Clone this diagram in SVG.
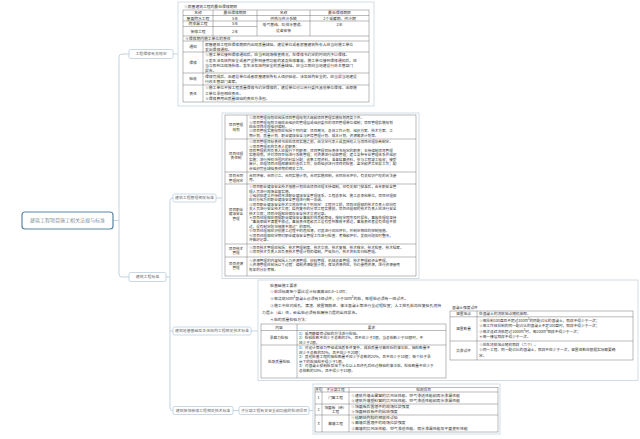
<svg xmlns="http://www.w3.org/2000/svg" width="640" height="439" viewBox="0 0 640 439">
<style>
.c{fill:none;stroke:#b4c8d8;stroke-width:0.8}
.nb{fill:#fff;stroke:#a3bfd3;stroke-width:0.6}
.rb{fill:#fff;stroke:#5b87a6;stroke-width:1.2}
.nt{font-family:"Noto Sans CJK SC",sans-serif;font-size:3.9px;fill:#666;text-anchor:middle}
.rt{font-family:"Noto Sans CJK SC",sans-serif;font-size:5px;fill:#7f92a1;text-anchor:middle}
.pan{fill:#fff;stroke:#c6d4df;stroke-width:0.8}
.tb{fill:none;stroke:#666;stroke-width:0.45}
.t{font-family:"Noto Sans CJK SC",sans-serif;fill:#333}
.a{font-size:3.8px}
.b{font-size:3.6px}
.d{font-size:3.9px}
.e{font-size:3.7px}
.s{font-size:3px}
.m{text-anchor:middle}
</style>
<rect width="640" height="439" fill="#fff"/>

<g id="connectors">
<path class="c" d="M113,220.5 H119"/>
<path class="c" d="M129,54 H122 Q119,54 119,57 V274 Q119,277 122,277 H129"/>
<path class="c" d="M173,54 H178"/>
<path class="c" d="M166,277 H170"/>
<path class="c" d="M173,198 H172.5 Q170,198 170,200.5 V408 Q170,410.5 172.5,410.5 H173"/>
<path class="c" d="M170,331 H173"/>
<path class="c" d="M216,198 H222"/>
<path class="c" d="M251,331 H258"/>
<path class="c" d="M233,410.5 H239"/>
<path class="c" d="M309,410.5 H313"/>
</g>

<g id="root">
<rect class="rb" x="22" y="212" width="91" height="17" rx="3"/>
<text class="rt" x="67.5" y="222.3">建筑工程项目施工相关法规与标准</text>
</g>

<g id="n-baoxiu">
<rect class="nb" x="129" y="49.5" width="44" height="9" rx="1.5"/>
<text class="nt" x="151" y="55.4">工程保修有关规定</text>
</g>

<g id="n-biaozhun">
<rect class="nb" x="129" y="272.5" width="37" height="9" rx="1.5"/>
<text class="nt" x="147.5" y="278.4">建筑工程标准</text>
</g>

<g id="n-guanli">
<rect class="nb" x="173" y="194" width="43" height="8" rx="1.5"/>
<text class="nt" x="194.5" y="199.4">建筑工程管理相关标准</text>
</g>

<g id="n-diji">
<rect class="nb" x="173" y="327" width="78" height="8" rx="1.5"/>
<text class="nt" x="212" y="332.4">建筑地基基础及主体结构工程相关技术标准</text>
</g>

<g id="n-zhuangshi">
<rect class="nb" x="173" y="406.5" width="60" height="8" rx="1.5"/>
<text class="nt" x="203" y="411.9">建筑装饰装修工程相关技术标准</text>
</g>

<g id="n-zifenbu">
<rect class="nb" x="239" y="406.5" width="70" height="8" rx="1.5"/>
<text class="nt" x="274" y="411.9">子分部工程有关安全和功能的检测项目</text>
</g>

<g id="t-baoxiu">
<rect class="pan" x="178" y="2" width="196" height="104"/>
<text class="t a" x="184" y="8.2">①房屋建筑工程的最低保修期限</text>
<rect class="tb" x="183" y="10" width="186" height="92"/>
<path class="tb" d="M183,15.5H369M183,21H369M183,26.5H257M183,36H369M183,41H369M183,52H369M183,73H369M183,85H369M213,10V36M257,10V36M310,10V36M203,41V102"/>
<g class="t a m">
<text x="198" y="14">名称</text><text x="235" y="14">最低保修期限</text><text x="283.5" y="14">名称</text><text x="339.5" y="14">最低保修期限</text>
<text x="198" y="19.6">屋面防水工程</text><text x="235" y="19.6">5年</text><text x="283.5" y="19.6">供热与供冷系统</text><text x="339.5" y="19.6">2个采暖期、供冷期</text>
<text x="198" y="25.1">防渗漏工程</text><text x="235" y="25.1">5年</text><text x="283.5" y="25.6">电气管线、给排水管道、</text><text x="339.5" y="25.6">2年</text>
<text x="198" y="32.6">装修工程</text><text x="235" y="32.6">2年</text><text x="283.5" y="31.6">设备安装</text>
<text x="193" y="47.8">通知</text><text x="193" y="63.8">保修</text><text x="193" y="80.3">验收</text><text x="193" y="94.8">责任</text>
</g>
<g class="t a">
<text x="185" y="39.8">②保修期内施工单位的责任</text>
<text x="205" y="45.6">房屋建筑工程在保修期限内出现质量缺陷，建设单位或者房屋建筑所有人应当向施工单位</text>
<text x="205" y="50.6">发出保修通知。</text>
<text x="205" y="56.4">①施工单位接到保修通知后，应当到现场核查情况，在保修书约定的时间内予以保修。</text>
<text x="205" y="61.6">②发生涉及结构安全或者严重影响使用功能的紧急抢修事故，施工单位接到保修通知后，应</text>
<text x="205" y="66.8">当立即到达现场抢修。发生涉及结构安全的质量缺陷，应当立即向当地建设行政主管部门</text>
<text x="205" y="72">报告。</text>
<text x="205" y="78">保修完成后，由建设单位或者房屋建筑所有人组织验收。涉及结构安全的，应当报当地建设</text>
<text x="205" y="83.2">行政主管部门备案。</text>
<text x="205" y="89.4">①施工单位不按工程质量保修书约定保修的，建设单位可以另行委托其他单位保修，由原施</text>
<text x="205" y="94.6">工单位承担相应责任。</text>
<text x="205" y="99.8">②保修费用由质量缺陷的责任方承担。</text>
</g>
</g>

<g id="t-guanli">
<rect class="pan" x="222" y="113" width="197" height="165.5"/>
<rect class="tb" x="225" y="115" width="191" height="161"/>
<path class="tb" d="M225,139H416M225,172H416M225,184H416M225,244H416M225,257H416M247,115V276"/>
<g class="t b m">
<text x="236" y="126.1">项目管理</text><text x="236" y="130.5">规划</text>
<text x="236" y="154.6">项目经理</text><text x="236" y="159">责任制</text>
<text x="236" y="177.1">项目合同</text><text x="236" y="181.5">管理规定</text>
<text x="236" y="210.9">项目职业</text><text x="236" y="215.3">健康安全</text><text x="236" y="219.7">管理</text>
<text x="236" y="249.6">项目技术</text><text x="236" y="254">管理</text>
<text x="236" y="264.6">项目资源</text><text x="236" y="269">管理</text>
</g>
<g class="t b">
<text x="249" y="119.2">①项目管理规划应包括项目管理规划大纲和项目管理实施规划两类文件。</text>
<text x="249" y="123.6">②项目管理规划大纲应由组织的管理层或组织委托的项目管理单位编制；项目管理实施规划</text>
<text x="249" y="128">应由项目经理组织编制。</text>
<text x="249" y="132.4">③项目管理实施规划应包括下列内容：项目概况、总体工作计划、组织方案、技术方案、工</text>
<text x="249" y="136.8">期计划、质量计划、职业健康安全与环境管理计划、成本计划、资源需求计划等。</text>
<text x="249" y="143.2">①项目管理目标责任书应在项目实施之前，由法定代表人或其授权人与项目经理协商制定。</text>
<text x="249" y="147.6">②项目管理机构负责人的职责：</text>
<text x="249" y="152">项目管理机构负责人应履行下列职责：项目管理目标责任书规定的职责；主持编制项目管理</text>
<text x="249" y="156.4">实施规划，并对项目目标进行系统管理；对资源进行动态管理；建立各种专业管理体系并组织</text>
<text x="249" y="160.8">实施；进行授权范围内的利益分配；收集工程资料，准备结算资料，参与工程竣工验收；接受</text>
<text x="249" y="165.2">审计，处理项目经理部解体的善后工作；协助组织进行项目的检查、鉴定和评奖申报工作；配</text>
<text x="249" y="169.6">合组织完善缺陷责任期的相关工作。</text>
<text x="249" y="177">合同评审，合同订立，合同实施计划，合同实施控制，合同综合评价，有关知识产权的合法使</text>
<text x="249" y="181.4">用。</text>
<text x="249" y="188.2">①项目职业健康安全技术措施计划应由项目经理主持编制，经有关部门批准后，由专职安全管</text>
<text x="249" y="192.6">理人员进行现场监督实施。</text>
<text x="249" y="197">②组织应建立并持续改进职业健康安全管理体系。工程总承包、施工总承包单位，项目经理部</text>
<text x="249" y="201.4">应对分包方的职业健康安全管理进行统一协调。</text>
<text x="249" y="205.8">③项目职业健康安全技术交底应符合下列规定：工程开工前，项目经理部的技术负责人应向有</text>
<text x="249" y="210.2">关人员进行安全技术交底；结构复杂的分项工程实施前，项目经理部的技术负责人应进行安全</text>
<text x="249" y="214.6">技术交底；项目经理部应保存安全技术交底记录。</text>
<text x="249" y="219">④项目经理部应根据职业健康安全事故的性质和等级，按规定程序及时报告，事故处理应坚持</text>
<text x="249" y="223.4">“事故原因不清楚不放过，事故责任者和员工没有受到教育不放过，事故责任者没有处理不放</text>
<text x="249" y="227.8">过，没有制定防范措施不放过”的原则。</text>
<text x="249" y="232.2">⑤项目经理部应识别施工过程中的危险源，对其进行风险评价，并制定相应的控制措施。</text>
<text x="249" y="236.6">⑥项目经理部应定期对职业健康安全管理工作进行检查、考核和评价，发现问题及时整改，</text>
<text x="249" y="241">并做好记录。</text>
<text x="249" y="249">①项目技术管理应包括：技术管理制度、技术交底、技术复核、技术核定、技术检查、技术档案。</text>
<text x="249" y="253.4">②项目技术负责人应负责技术管理计划的编制，严格执行，技术资料及归档管理。</text>
<text x="249" y="262">①资源管理的内容包括人力资源管理、材料管理、机械设备管理、技术管理和资金管理。</text>
<text x="249" y="266.4">②资源管理应包括以下过程：编制资源配置计划，保证资源供应，节约使用资源，进行资源使用</text>
<text x="249" y="270.8">效果的分析考核。</text>
</g>
</g>

<g id="t-diji">
<rect class="pan" x="258" y="280" width="380" height="100.5"/>
<g class="t d">
<text x="270" y="286.5">桩基础施工要求</text>
<text x="270" y="293.3">①桩顶标高至少要比设计标高高出0.8~1.0m；</text>
<text x="270" y="300.1">②每浇筑50m³混凝土必须有1组试件，小于50m³的桩，每根桩必须有一组试件。</text>
<text x="270" y="306.9">③施工中应对成孔、清渣、放置钢筋笼、灌注混凝土等进行全过程检查；人工挖孔桩尚应复验孔底持</text>
<text x="262" y="313.7">力层土（岩）性，嵌岩桩必须有桩端持力层的岩性报告。</text>
<text x="270" y="320.5">④桩的质量检验方法：</text>
</g>
<rect class="tb" x="261" y="324" width="185" height="54"/>
<path class="tb" d="M261,330.5H446M261,345H446M297,324V378"/>
<g class="t e m">
<text x="279" y="328.8">内容</text><text x="371.5" y="328.8">要求</text>
<text x="279" y="339">承载力检验</text>
<text x="279" y="362.8">桩身质量检验</text>
</g>
<g class="t e">
<text x="299" y="334.6">1）采用静载荷试验的方法进行检验。</text>
<text x="299" y="339.1">2）检验桩数不应少于总数的1%，且不应少于3根，当总桩数少于50根时，不</text>
<text x="299" y="343.6">应少于2根。</text>
<text x="299" y="349.2">1）对设计等级为甲级或地质条件复杂，成桩质量可靠性低的灌注桩，抽检数量不</text>
<text x="299" y="353.7">应少于总数的30%，且不应少于20根；</text>
<text x="299" y="358.2">2）其他桩基工程的抽检数量不应少于总数的20%，且不应少于10根；每个柱子承</text>
<text x="299" y="362.7">台下的桩抽检不得少于1根。</text>
<text x="299" y="367.2">3）对混凝土预制桩及地下水位以上且终孔后经过核验的灌注桩，检验数量不应少于</text>
<text x="299" y="371.7">总桩数的10%，且不得少于10根。</text>
</g>
<text class="t e" x="452" y="309">混凝土强度试件</text>
<rect class="tb" x="450" y="311" width="183" height="49"/>
<path class="tb" d="M450,316.8H633M450,341H633M477,311V360"/>
<g class="t e m">
<text x="463.5" y="315.3">留置地点</text>
<text x="463.5" y="330.2">留置数量</text>
<text x="463.5" y="351.8">抗渗试件</text>
</g>
<g class="t e">
<text x="479" y="315.3">在混凝土的浇筑地点随机抽取。</text>
<text x="479" y="321.5">①每拌制100盘且不超过100m³的同配合比的混凝土，取样不得少于一次；</text>
<text x="479" y="327">②每工作班拌制的同一配合比的混凝土不足100盘时，取样不得少于一次；</text>
<text x="479" y="332.5">③每次连续浇筑超过1000m³时，每200m³取样不得少于一次；</text>
<text x="479" y="338">④每一楼层取样不得少于一次。</text>
<text x="479" y="345.6">①应在浇筑地点随机取样（六个）。</text>
<text x="479" y="351.2">②同一工程、同一配合比的混凝土，取样不应少于一次，留置组数应根据实际需要确</text>
<text x="479" y="356.8">定。</text>
</g>
</g>

<g id="t-jiance">
<rect class="pan" x="313" y="384" width="187" height="50"/>
<rect class="tb" x="315" y="387.5" width="183" height="44.5"/>
<path class="tb" d="M315,392H498M315,404H498M315,415H498M322,387.5V432M349,387.5V432"/>
<g class="t s m">
<text x="318.5" y="391">序号</text>
</g>
<g class="t e m">
<text x="335.5" y="391.2">子分部工程</text><text x="423.5" y="391.2">检测项目</text>
<text x="318.5" y="399.3">1</text><text x="335.5" y="399.3">门窗工程</text>
<text x="318.5" y="410.8">2</text><text x="335.5" y="408.6">饰面板（砖）</text><text x="335.5" y="413.2">工程</text>
<text x="318.5" y="424.8">3</text><text x="335.5" y="424.8">幕墙工程</text>
</g>
<g class="t d">
<text x="351" y="397.3">①建筑外墙金属窗的抗风压性能、空气渗透性能和雨水渗漏性能</text>
<text x="351" y="402.3">②建筑外墙塑料窗的抗风压性能、空气渗透性能和雨水渗漏性能</text>
<text x="351" y="408.3">①饰面板后置埋件的现场拉拔强度</text>
<text x="351" y="413.3">②饰面砖样板件的粘结强度</text>
<text x="351" y="419.3">①硅酮结构胶的相容性试验</text>
<text x="351" y="424.3">②幕墙后置埋件的现场拉拔强度</text>
<text x="351" y="429.8">③幕墙的抗风压性能、空气渗透性能、雨水渗漏性能及平面变形性能</text>
</g>
</g>
</svg>
